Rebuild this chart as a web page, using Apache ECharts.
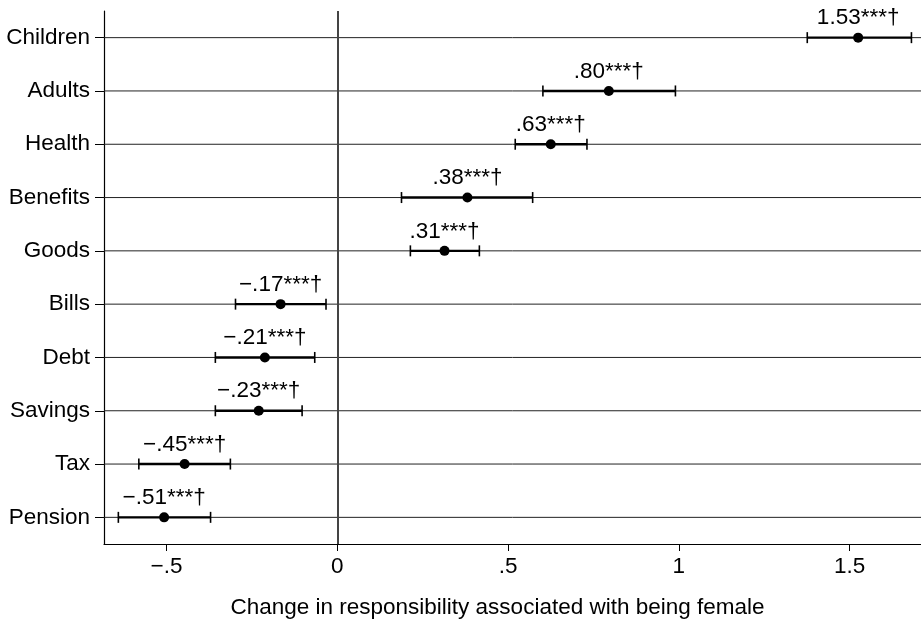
<!DOCTYPE html>
<html>
<head>
<meta charset="utf-8">
<script src="https://cdn.jsdelivr.net/npm/echarts@6/dist/echarts.min.js"></script>
<style>
  html, body { margin: 0; padding: 0; background: #fff; }
  #chart { width: 921px; height: 621px; }
</style>
</head>
<body>
<div id="chart"></div>
<script>
// 数据
var categories = ["Children", "Adults", "Health", "Benefits", "Goods", "Bills", "Debt", "Savings", "Tax", "Pension"];
var estimates = [1.525, 0.795, 0.625, 0.381, 0.314, -0.166, -0.212, -0.230, -0.447, -0.507];
var ciLow = [1.376, 0.602, 0.521, 0.188, 0.214, -0.298, -0.357, -0.357, -0.581, -0.641];
var ciHigh = [1.681, 0.990, 0.731, 0.572, 0.416, -0.033, -0.066, -0.103, -0.313, -0.371];
var pointLabels = ["1.53***†", ".80***†", ".63***†", ".38***†", ".31***†", "−.17***†", "−.21***†", "−.23***†", "−.45***†", "−.51***†"];
var tickValues = [-0.5, 0, 0.5, 1, 1.5];
var tickLabels = ["−.5", "0", ".5", "1", "1.5"];

var xMin = -0.683;
var xMax = 1.709;
var font = "'Liberation Sans', Arial, Helvetica, sans-serif";
var fs = 22.5;

var myChart = echarts.init(document.getElementById("chart"));

var option = {
  animation: false,
  textStyle: { fontFamily: font },
  grid: { left: 104, right: 0, top: 11, bottom: 77, outerBoundsMode: "none", containLabel: false },
  xAxis: {
    type: "value",
    min: xMin,
    max: xMax,
    name: "Change in responsibility associated with being female",
    nameLocation: "middle",
    nameGap: 52,
    nameTextStyle: { fontSize: fs, color: "#000", fontFamily: font, padding: [0, 30, 0, 0] },
    axisLine: { show: true, onZero: false, lineStyle: { color: "#000", width: 1.2 } },
    axisTick: { show: true, length: 7, customValues: tickValues, lineStyle: { color: "#000" } },
    axisLabel: {
      customValues: tickValues,
      margin: 11,
      fontSize: fs,
      color: "#000",
      formatter: function (v) {
        var i = tickValues.indexOf(v);
        return i >= 0 ? tickLabels[i] : "";
      }
    },
    splitLine: { show: false }
  },
  yAxis: {
    type: "category",
    data: categories,
    inverse: true,
    axisLine: { show: true, onZero: false, lineStyle: { color: "#000", width: 1.2 } },
    axisTick: { show: true, alignWithLabel: true, length: 9, lineStyle: { color: "#000" } },
    axisLabel: { fontSize: fs, color: "#000", margin: 14 },
    splitLine: { show: false }
  },
  series: [
    {
      // 每行的横线和置信区间
      type: "custom",
      z: 2,
      silent: true,
      data: categories.map(function (c, i) { return [ciLow[i], ciHigh[i], i]; }),
      encode: { x: [0, 1], y: 2 },
      renderItem: function (params, api) {
        var row = api.value(2);
        var a = api.coord([xMin, row]);
        var b = api.coord([xMax, row]);
        var lo = api.coord([api.value(0), row]);
        var hi = api.coord([api.value(1), row]);
        var cap = 5.5;
        return {
          type: "group",
          children: [
            { type: "line", shape: { x1: a[0], y1: a[1], x2: b[0], y2: b[1] }, style: { stroke: "#222", lineWidth: 1 } },
            { type: "line", shape: { x1: lo[0], y1: lo[1], x2: hi[0], y2: hi[1] }, style: { stroke: "#000", lineWidth: 2.4 } },
            { type: "line", shape: { x1: lo[0], y1: lo[1] - cap, x2: lo[0], y2: lo[1] + cap }, style: { stroke: "#000", lineWidth: 1.6 } },
            { type: "line", shape: { x1: hi[0], y1: hi[1] - cap, x2: hi[0], y2: hi[1] + cap }, style: { stroke: "#000", lineWidth: 1.6 } }
          ]
        };
      }
    },
    {
      type: "scatter",
      z: 3,
      symbol: "circle",
      symbolSize: 10,
      itemStyle: { color: "#000", opacity: 1 },
      data: categories.map(function (c, i) { return [estimates[i], c]; }),
      label: {
        show: true,
        position: "top",
        distance: 3,
        fontSize: fs,
        color: "#000",
        opacity: 1,
        fontFamily: font,
        formatter: function (p) { return pointLabels[p.dataIndex]; }
      },
      markLine: {
        silent: true,
        symbol: "none",
        label: { show: false },
        lineStyle: { color: "#444", width: 2, type: "solid" },
        data: [{ xAxis: 0 }]
      }
    }
  ]
};

myChart.setOption(option);
</script>
</body>
</html>
